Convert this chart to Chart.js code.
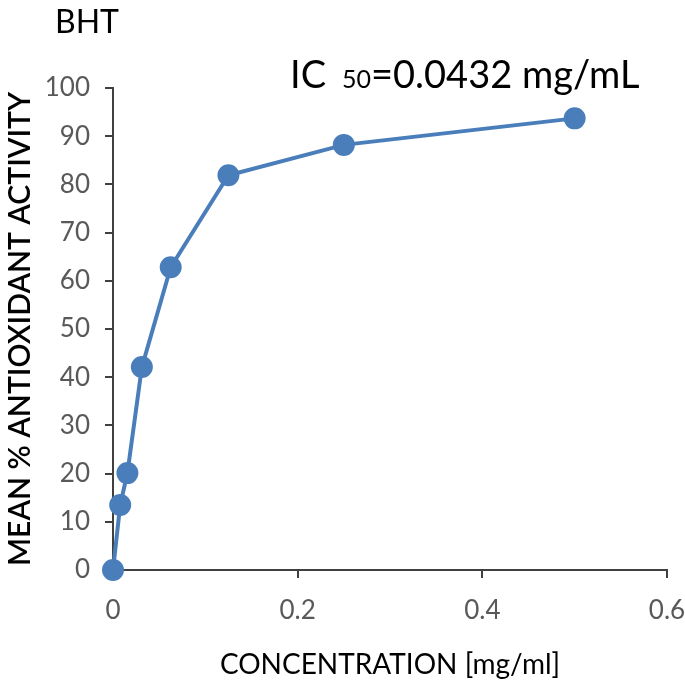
<!DOCTYPE html>
<html lang="en">
<head>
    <meta charset="UTF-8">
    <title>BHT</title>
    <style>
        * { margin: 0; padding: 0; box-sizing: border-box; }
        body { background: #fff; }
        .wrap { width: 685px; height: 682px; position: relative; }
    </style>
</head>
<body>
    <div class="wrap">
        <canvas id="chart" width="685" height="682"></canvas>
    </div>

    <script src="https://cdn.jsdelivr.net/npm/chart.js"></script>
    <script>
        // Data
        const concentration = [0, 0.0078, 0.0156, 0.03125, 0.0625, 0.125, 0.25, 0.5];
        const activity = [0, 13.5, 20.1, 42.1, 62.8, 81.9, 88.2, 93.7];
        const xTicks = [0, 0.2, 0.4, 0.6];
        const yTicks = [0, 10, 20, 30, 40, 50, 60, 70, 80, 90, 100];

        const FONT = 'Lato, "Open Sans", sans-serif';
        const BLUE = '#4a7ebb';
        const AXIS = '#404040';

        // Title "BHT" and IC50 note
        const labelsPlugin = {
            id: 'labels',
            afterDraw(chart) {
                const ctx = chart.ctx;
                ctx.save();
                ctx.fillStyle = '#000';
                ctx.textBaseline = 'alphabetic';
                ctx.font = '32px ' + FONT;
                ctx.fillText('BHT', 55, 33);

                let x = 290;
                const base = 88;
                ctx.font = '38px ' + FONT;
                ctx.fillText('IC', x, base);
                x += ctx.measureText('IC').width + 16;
                ctx.font = '25px ' + FONT;
                ctx.fillText('50', x, base);
                x += ctx.measureText('50').width;
                ctx.font = '38px ' + FONT;
                ctx.fillText('=0.0432 mg/mL', x, base);
                ctx.restore();
            }
        };

        const data = concentration.map((c, i) => ({ x: c, y: activity[i] }));

        new Chart(document.getElementById('chart'), {
            type: 'scatter',
            data: {
                datasets: [{
                    data: data,
                    showLine: true,
                    clip: false,
                    borderColor: BLUE,
                    backgroundColor: BLUE,
                    borderWidth: 4,
                    pointRadius: 9,
                    pointHoverRadius: 9
                }]
            },
            options: {
                responsive: false,
                animation: false,
                layout: { padding: { left: 0, right: 18, top: 88, bottom: 0 } },
                plugins: {
                    legend: { display: false },
                    tooltip: { enabled: false }
                },
                scales: {
                    x: {
                        type: 'linear',
                        min: 0,
                        max: 0.6,
                        afterBuildTicks: (scale) => { scale.ticks = xTicks.map(v => ({ value: v })); },
                        afterFit: (scale) => {
                            scale.height = 112;
                            scale.paddingLeft = 0;
                            scale.paddingRight = 0;
                        },
                        grid: { drawOnChartArea: false, drawTicks: true, tickLength: 8, color: AXIS, lineWidth: 2 },
                        border: { display: true, color: AXIS, width: 2 },
                        ticks: {
                            color: '#595959',
                            font: { family: FONT, size: 26 },
                            padding: 17
                        },
                        title: {
                            display: true,
                            text: 'CONCENTRATION [mg/ml]',
                            color: '#000',
                            font: { family: FONT, size: 28 },
                            padding: 0
                        }
                    },
                    y: {
                        min: 0,
                        max: 100,
                        afterBuildTicks: (scale) => { scale.ticks = yTicks.map(v => ({ value: v })); },
                        afterFit: (scale) => {
                            scale.width = 113;
                            scale.paddingTop = 0;
                            scale.paddingBottom = 0;
                        },
                        grid: { drawOnChartArea: false, drawTicks: true, tickLength: 8, color: AXIS, lineWidth: 2 },
                        border: { display: true, color: AXIS, width: 2 },
                        ticks: {
                            color: '#595959',
                            font: { family: FONT, size: 26 },
                            padding: 15
                        },
                        title: {
                            display: true,
                            text: 'MEAN % ANTIOXIDANT ACTIVITY',
                            color: '#000',
                            font: { family: FONT, size: 30, weight: '600' },
                            padding: 2
                        }
                    }
                }
            },
            plugins: [labelsPlugin]
        });
    </script>
</body>
</html>
